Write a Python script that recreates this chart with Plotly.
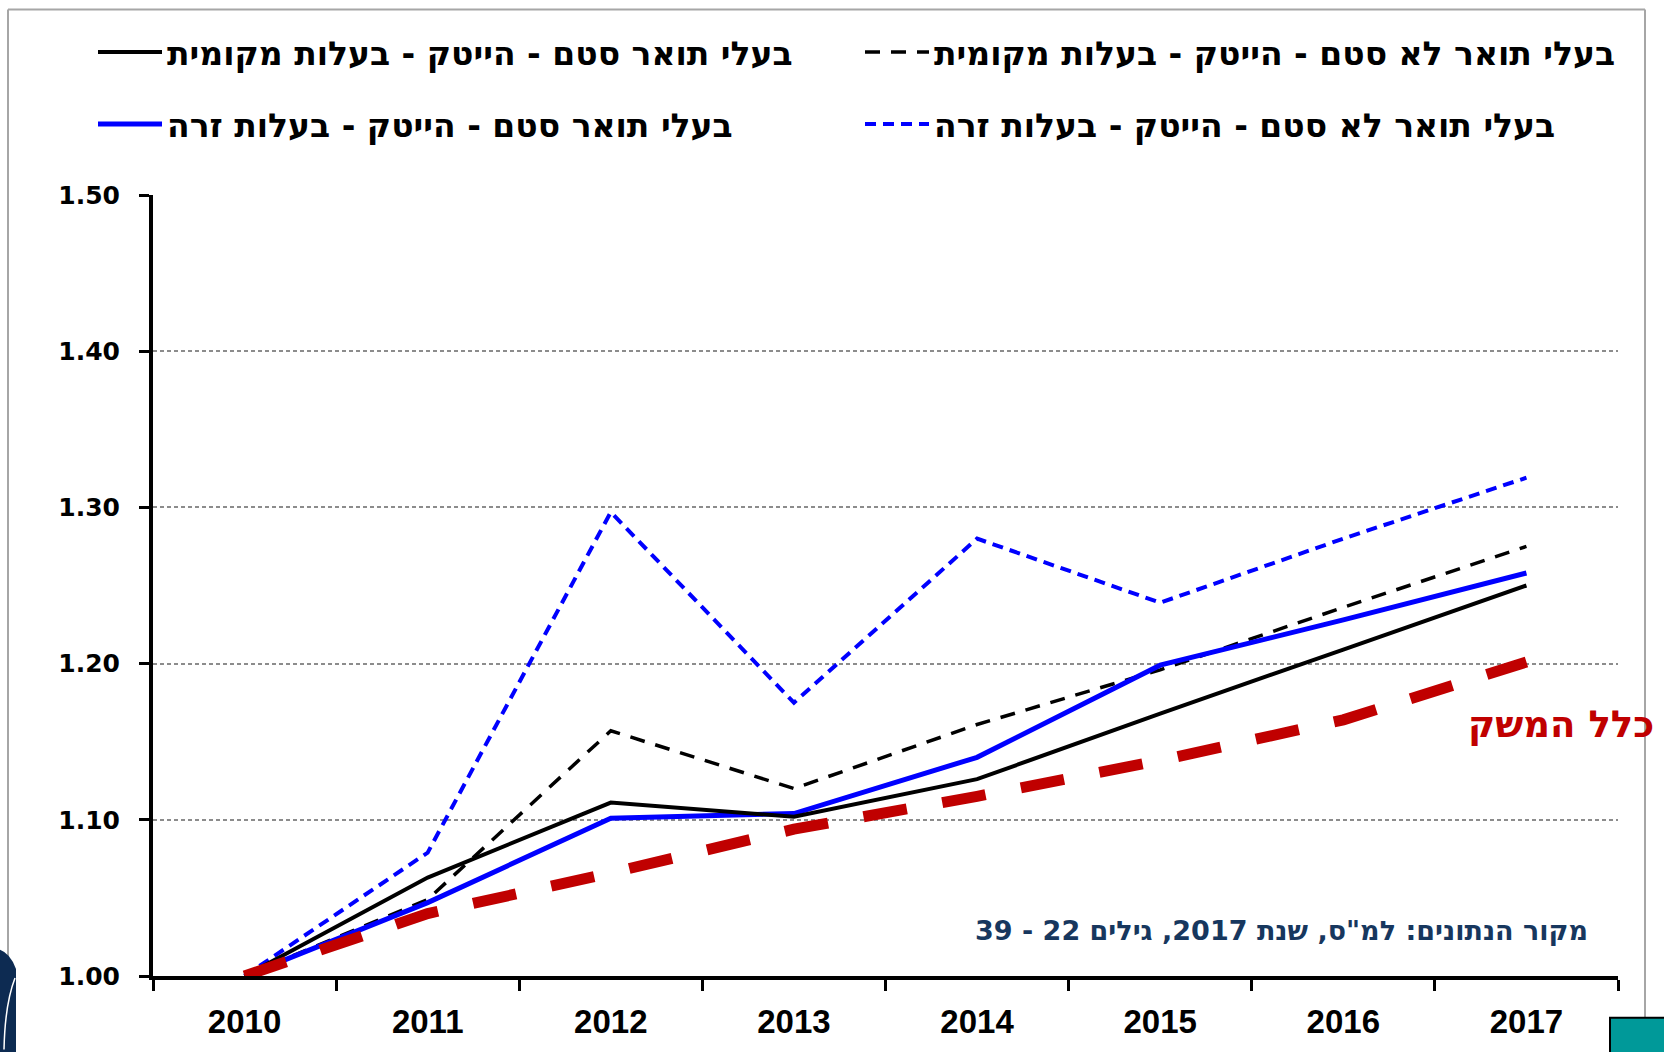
import plotly.graph_objects as go

# Index of wages relative to 2010, by group
years = ["2010", "2011", "2012", "2013", "2014", "2015", "2016", "2017"]
stem_local = [1.000, 1.063, 1.111, 1.102, 1.126, 1.168, 1.209, 1.250]
nonstem_local = [1.000, 1.049, 1.157, 1.120, 1.161, 1.196, 1.236, 1.275]
stem_foreign = [1.000, 1.047, 1.101, 1.104, 1.140, 1.199, 1.228, 1.258]
nonstem_foreign = [1.000, 1.079, 1.297, 1.175, 1.280, 1.239, 1.280, 1.319]
economy = [1.000, 1.040, 1.066, 1.094, 1.115, 1.138, 1.164, 1.201]

name_stem_local = "בעלי תואר סטם - הייטק - בעלות מקומית"
name_nonstem_local = "בעלי תואר לא סטם - הייטק - בעלות מקומית"
name_stem_foreign = "בעלי תואר סטם - הייטק - בעלות זרה"
name_nonstem_foreign = "בעלי תואר לא סטם - הייטק - בעלות זרה"
economy_label = "כלל המשק"
source_label = "\u202bמקור הנתונים: למ\"ס, שנת 2017, גילים 22 - 39\u202c"

W, H = 1664, 1052
L, R, T, B = 153, 46, 195, 70
PW, PH = W - L - R, H - T - B


def px(x):
    return (x - L) / PW


def py(y):
    return (H - B - y) / PH


HEB = "DejaVu Sans, sans-serif"

fig = go.Figure()

fig.add_trace(go.Scatter(
    x=years, y=nonstem_foreign, mode="lines", name=name_nonstem_foreign,
    line=dict(color="#0000ff", width=4, dash="11px,7px"),
    legend="legend4",
))
fig.add_trace(go.Scatter(
    x=years, y=nonstem_local, mode="lines", name=name_nonstem_local,
    line=dict(color="#000000", width=3.5, dash="15px,11px"),
    legend="legend2",
))
fig.add_trace(go.Scatter(
    x=years, y=stem_foreign, mode="lines", name=name_stem_foreign,
    line=dict(color="#0000ff", width=5),
    legend="legend3",
))
fig.add_trace(go.Scatter(
    x=years, y=stem_local, mode="lines", name=name_stem_local,
    line=dict(color="#000000", width=4),
    legend="legend",
))
fig.add_trace(go.Scatter(
    x=years, y=economy, mode="lines", name=economy_label,
    line=dict(color="#c00000", width=11, dash="44px,36px"),
    showlegend=False,
))

legend_common = dict(
    orientation="h", xref="container", yref="container",
    xanchor="left", yanchor="middle",
    font=dict(family=HEB, size=33, color="#000000", weight="bold"),
    itemwidth=64, bgcolor="rgba(0,0,0,0)", itemclick=False,
)
col_left, col_right = 93 / W, 860 / W
row_top, row_bottom = 1 - 52 / H, 1 - 124 / H

fig.update_layout(
    width=W, height=H,
    margin=dict(l=L, r=R, t=T, b=B),
    paper_bgcolor="white", plot_bgcolor="white",
    showlegend=True,
    legend=dict(legend_common, x=col_left, y=row_top),
    legend2=dict(legend_common, x=col_right, y=row_top),
    legend3=dict(legend_common, x=col_left, y=row_bottom),
    legend4=dict(legend_common, x=col_right, y=row_bottom),
    xaxis=dict(
        type="category", range=[-0.5, 7.5], tickson="boundaries",
        ticks="outside", ticklen=11, tickwidth=3, tickcolor="#000000",
        showline=True, linewidth=4, linecolor="#000000",
        showgrid=False, zeroline=False,
        tickfont=dict(family="Liberation Sans, Arial, sans-serif", size=33,
                      color="#000000", weight="bold"),
        ticklabelstandoff=13,
    ),
    yaxis=dict(
        range=[1.0, 1.5], dtick=0.1, tick0=1.0, tickformat=".2f",
        ticks="outside", ticklen=10, tickwidth=3, tickcolor="#000000",
        showline=True, linewidth=4, linecolor="#000000",
        showgrid=True, gridcolor="#8c8c8c", gridwidth=1.5, griddash="4px,3px",
        zeroline=False,
        tickfont=dict(family="DejaVu Sans, sans-serif", size=25,
                      color="#000000", weight="bold"),
        ticklabelstandoff=14,
    ),
    annotations=[
        dict(text=economy_label, xref="paper", yref="paper",
             x=px(1656), y=py(729), xanchor="right", yanchor="middle",
             showarrow=False,
             font=dict(family=HEB, size=37, color="#c00000", weight="bold")),
        dict(text=source_label, xref="paper", yref="paper",
             x=px(1590), y=py(936), xanchor="right", yanchor="middle",
             showarrow=False,
             font=dict(family=HEB, size=27, color="#17375e", weight="bold")),
    ],
    shapes=[
        # outer frame (top, left, right)
        dict(type="line", xref="paper", yref="paper", x0=px(8), x1=px(1645),
             y0=py(8), y1=py(8), line=dict(color="#a6a6a6", width=2)),
        dict(type="line", xref="paper", yref="paper", x0=px(8), x1=px(8),
             y0=py(8), y1=py(968), line=dict(color="#a6a6a6", width=2)),
        dict(type="line", xref="paper", yref="paper", x0=px(1645), x1=px(1645),
             y0=py(8), y1=py(1024), line=dict(color="#a6a6a6", width=2)),
        # corner decorations
        dict(type="rect", xref="paper", yref="paper", x0=px(1610), x1=px(1672),
             y0=py(1024), y1=py(1062), fillcolor="#009999",
             line=dict(color="#000000", width=2)),
        dict(type="path", xref="paper", yref="paper",
             path=(f"M{px(-2)},{py(955)} Q{px(10)},{py(958)} {px(16)},{py(975)} "
                   f"L{px(16)},{py(1060)} L{px(-2)},{py(1060)} Z"),
             fillcolor="#0d2b52", line=dict(width=0)),
        dict(type="path", xref="paper", yref="paper",
             path=f"M{px(15)},{py(984)} Q{px(5)},{py(1010)} {px(4)},{py(1056)}",
             line=dict(color="#ffffff", width=1.5)),
    ],
)

fig.write_html("out.html")
